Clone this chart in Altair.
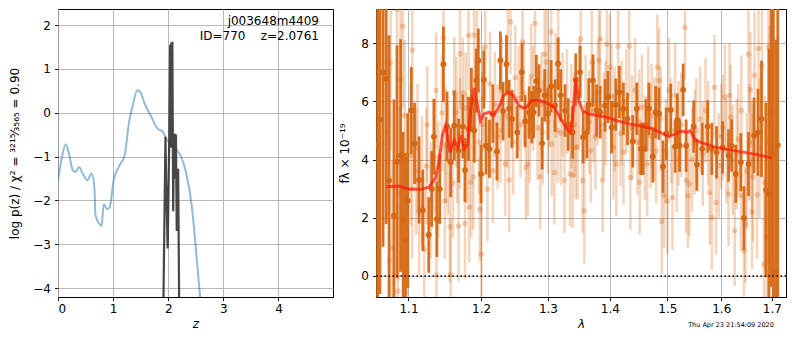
import altair as alt
import pandas as pd

# ---------------- left panel: redshift PDF ----------------
z_prior = [0.0, 0.06, 0.14, 0.20, 0.27, 0.32, 0.38, 0.45, 0.53, 0.61, 0.66, 0.68, 0.75, 0.79,
           0.83, 0.89, 0.94, 1.01, 1.10, 1.21, 1.29, 1.35, 1.44, 1.51, 1.57, 1.68, 1.81, 1.89,
           1.98, 2.13, 2.22, 2.32, 2.43, 2.52, 2.59, 2.65]
logp_prior = [-1.55, -1.09, -0.72, -0.94, -1.32, -1.35, -1.24, -1.39, -1.54, -1.39, -1.70, -2.34,
              -2.53, -2.59, -2.09, -2.20, -2.15, -1.54, -1.24, -0.97, -0.21, 0.13, 0.51, 0.43,
              0.21, -0.06, -0.37, -0.42, -0.63, -0.82, -0.97, -1.35, -2.15, -3.37, -4.37, -5.2]

z_post = [1.91, 1.95, 1.97, 1.99, 2.02, 2.035, 2.045, 2.055, 2.065, 2.075, 2.09, 2.105, 2.12,
          2.13, 2.14, 2.155, 2.18, 2.20]
logp_post = [-4.6, -0.55, -2.0, -3.1, -0.5, 1.55, -0.8, 1.6, 0.5, 1.62, -2.25, -0.6, -0.48,
             -1.5, -0.5, -2.7, -1.28, -4.6]

label_name = "j003648m4409"
label_id = "ID=770\u00a0\u00a0\u00a0\u00a0z=2.0761"

# ---------------- right panel: spectrum ----------------
lam_dark = [1.060, 1.063, 1.067, 1.071, 1.0747, 1.081, 1.085, 1.0897, 1.093, 1.096, 1.099,
            1.1037, 1.108, 1.114, 1.119, 1.127, 1.131, 1.134, 1.138, 1.142, 1.147, 1.152, 1.157,
            1.162, 1.168, 1.174, 1.177, 1.182, 1.186, 1.190, 1.193, 1.196, 1.200, 1.204, 1.207,
            1.212, 1.217, 1.223, 1.228, 1.232, 1.237, 1.241, 1.245, 1.253, 1.260, 1.265, 1.271,
            1.275, 1.278, 1.282, 1.286, 1.291, 1.295, 1.300, 1.305, 1.311, 1.316, 1.320, 1.327,
            1.332, 1.339, 1.344, 1.351, 1.356, 1.362, 1.365, 1.372, 1.378, 1.384, 1.392, 1.397,
            1.403, 1.410, 1.416, 1.423, 1.430, 1.439, 1.446, 1.453, 1.457, 1.462, 1.467, 1.474,
            1.479, 1.485, 1.492, 1.498, 1.506, 1.514, 1.518, 1.522, 1.5286, 1.534, 1.548, 1.554,
            1.564, 1.574, 1.582, 1.591, 1.6026, 1.614, 1.620, 1.628, 1.638, 1.644, 1.653, 1.664,
            1.672, 1.679, 1.688, 1.694, 1.699, 1.703, 1.708, 1.712]
flux_dark = [4.5, 5.38, 7.0, 6.78, 3.28, 2.07, 3.93, 4.14, 1.95, 1.23, 2.59,
             5.69, 4.56, 3.30, 2.26, 1.41, 2.99, 4.79, 1.95, 2.99, 7.28, 5.14, 3.91,
             5.17, 4.31, 5.14, 3.64, 5.06, 6.06, 5.0, 6.72, 7.41, 3.51, 6.75, 4.48,
             4.37, 5.58, 4.28, 7.41, 5.67, 7.28, 5.75, 5.40, 4.94, 7.01, 5.32, 5.62,
             5.46, 5.63, 6.70, 6.38, 4.56, 6.21, 5.58, 6.52, 5.86, 7.30, 6.21, 5.69,
             5.21, 4.94, 6.75, 7.01, 4.77, 4.94, 5.90, 6.72, 5.69, 5.63, 5.86, 6.15,
             5.11, 5.89, 6.32, 5.75, 5.40, 4.63, 5.75, 4.37, 4.37, 5.17, 5.75, 4.11,
             5.63, 5.58, 3.76, 4.89, 5.71, 4.45, 5.37, 4.48, 6.40, 4.48, 5.14, 3.83,
             4.37, 5.14, 4.37, 4.25, 4.42, 4.14, 4.48, 3.51, 3.91, 1.99, 3.85, 4.83,
             4.94, 5.40, 2.96, 2.82, 5.63, 4.2, 0.13, 4.5]
err_dark = [8, 6, 6, 5, 5, 4, 4, 4, 3, 3, 3,
            1.5, 1.4, 1.5, 1.4, 1.3, 1.3, 1.3, 1.3, 1.2, 1.3, 1.2, 1.2,
            1.2, 1.1, 1.1, 1.1, 1.1, 1.1, 1.1, 1.1, 1.1, 1.0, 1.0, 1.0,
            1.0, 1.0, 1.0, 1.0, 1.0, 1.0, 1.0, 1.0, 0.9, 1.0, 0.9, 0.9,
            0.9, 0.9, 0.9, 0.9, 0.9, 0.9, 0.9, 0.9, 0.9, 0.9, 0.9, 0.9,
            0.9, 0.9, 0.9, 0.9, 0.9, 0.9, 0.9, 0.9, 0.9, 0.9, 0.9, 0.9,
            0.9, 0.9, 0.9, 0.9, 0.9, 0.9, 0.9, 0.9, 0.9, 0.9, 0.9, 0.9,
            0.9, 0.9, 0.9, 0.9, 0.9, 0.9, 0.9, 0.9, 0.9, 0.9, 0.9, 0.9,
            0.9, 0.9, 0.9, 0.9, 0.9, 0.9, 0.9, 1.0, 1.0, 1.1, 1.1, 1.3,
            1.5, 2.0, 3.0, 5.0, 6.0, 8.0, 8.0, 9.0]

# light (secondary) spectrum: scattered outliers
lam_light = [1.0725, 1.0767, 1.075, 1.079, 1.085, 1.086, 1.087, 1.0897, 1.0926, 1.095, 1.098,
             1.103, 1.105, 1.11, 1.114, 1.121, 1.124, 1.137, 1.1375, 1.147, 1.149, 1.15, 1.156,
             1.157, 1.162, 1.165, 1.168, 1.170, 1.17, 1.177, 1.178, 1.182, 1.183, 1.186, 1.189,
             1.190, 1.194, 1.198, 1.2004, 1.2015, 1.206, 1.209, 1.217, 1.22, 1.228, 1.235, 1.239,
             1.241, 1.243, 1.250, 1.255, 1.261, 1.266, 1.269, 1.274, 1.280, 1.284, 1.288, 1.292,
             1.295, 1.298, 1.30, 1.305, 1.306, 1.310, 1.312, 1.316, 1.320, 1.326, 1.33, 1.335,
             1.339, 1.344, 1.347, 1.352, 1.355, 1.358, 1.36, 1.3686, 1.370, 1.376, 1.382, 1.384,
             1.388, 1.39, 1.395, 1.400, 1.406, 1.411, 1.414, 1.42, 1.423, 1.433, 1.435, 1.443,
             1.45, 1.451, 1.464, 1.466, 1.47, 1.477, 1.482, 1.485, 1.490, 1.494, 1.500, 1.503,
             1.509, 1.514, 1.52, 1.532, 1.534, 1.537, 1.540, 1.55, 1.56, 1.570, 1.578, 1.582,
             1.587, 1.590, 1.60, 1.607, 1.614, 1.616, 1.618, 1.626, 1.63, 1.638, 1.639, 1.644,
             1.647, 1.653, 1.657, 1.660, 1.66, 1.665, 1.67, 1.673, 1.680, 1.684, 1.690, 1.693,
             1.697, 1.707]
flux_light = [4.94, 7.32, 0.52, 0.95, 9.16, -0.52, 2.84, 6.75, 8.59, 5.52, 1.44,
              4.14, 7.76, 3.6, 2.22, 0.92, 3.77, 6.38, 0.03, 8.19, 2.59, 4.5, 1.69,
              0.06, 6.32, 5.63, 1.72, 7.64, 4.9, 1.80, 5.78, 8.28, 2.36, 3.22, 3.4,
              8.28, 9.25, 2.29, 0.75, 5.21, 7.87, 2.99, 3.62, 5.9, 5.0, 3.85, 9.20,
              3.30, 8.74, 6.82, 6.1, 8.05, 3.73, 3.85, 6.86, 8.68, 5.09, 3.41, 4.94,
              7.62, 7.36, 5.3, 8.39, 4.54, 3.56, 6.55, 9.20, 4.91, 3.28, 6.0, 3.51,
              3.45, 4.43, 4.43, 8.16, 3.28, 2.24, 5.8, 4.31, 7.36, 4.77, 7.41, 8.16,
              3.30, 5.2, 7.97, 7.18, 4.43, 3.85, 7.90, 5.6, 4.25, 7.90, 3.39, 6.38,
              5.3, 3.22, 3.85, 6.09, 4.8, 5.06, 7.18, 6.72, 1.87, 2.76, 2.56, 6.38,
              2.70, 6.21, 4.9, 8.54, 3.28, 2.76, 3.16, 4.6, 5.4, 5.69, 2.87, 2.01,
              6.49, 2.53, 4.8, 6.15, 2.82, 6.21, 5.46, 1.55, 4.2, 2.76, 5.69, 0.86,
              1.78, 7.62, 6.40, 2.22, 4.0, 6.90, 2.79, 7.82, 7.21, 0.40, 1.34, 7.87,
              5.60, 0.11]
err_light = [3, 3, 3, 3, 3, 3, 3, 2.8, 2.8, 2.6, 2.6,
             2.4, 2.4, 2.2, 2.2, 2.0, 2.0, 2.0, 2.0, 2.0, 2.0, 2.0, 1.9,
             1.9, 1.9, 1.9, 1.9, 1.9, 1.9, 1.9, 1.9, 1.9, 1.9, 1.9, 1.8,
             1.8, 1.8, 1.8, 1.8, 1.8, 1.8, 1.8, 1.8, 1.8, 1.8, 1.8, 1.8,
             1.8, 1.8, 1.8, 1.8, 1.8, 1.8, 1.8, 1.8, 1.8, 1.8, 1.8, 1.8,
             1.8, 1.8, 1.8, 1.8, 1.8, 1.8, 1.8, 1.8, 1.8, 1.8, 1.8, 1.8,
             1.8, 1.8, 1.8, 1.8, 1.8, 1.8, 1.8, 1.8, 1.8, 1.8, 1.8, 1.8,
             1.8, 1.8, 1.8, 1.8, 1.8, 1.8, 1.8, 1.8, 1.8, 1.8, 1.8, 1.8,
             1.8, 1.8, 1.8, 1.8, 1.8, 1.8, 1.8, 1.8, 1.8, 1.8, 1.8, 1.8,
             1.8, 1.8, 1.8, 1.8, 1.8, 1.8, 1.8, 1.8, 1.8, 1.8, 1.8, 1.8,
             1.8, 1.8, 1.8, 1.8, 1.8, 1.8, 1.8, 1.9, 1.9, 1.9, 1.9, 2.0,
             2.0, 2.0, 2.0, 2.0, 2.0, 2.2, 2.2, 2.4, 2.6, 3.0, 3.0, 3.5,
             4.0, 5.0]

# light (secondary) spectrum: dense band near the model
lam_band = [1.105, 1.112, 1.118, 1.125, 1.130, 1.135, 1.140, 1.145, 1.153, 1.160, 1.166,
            1.174, 1.180, 1.192, 1.197, 1.203, 1.213, 1.224, 1.230, 1.238, 1.247, 1.258,
            1.263, 1.272, 1.277, 1.290, 1.302, 1.315, 1.323, 1.337, 1.342, 1.350, 1.366,
            1.373, 1.380, 1.393, 1.403, 1.408, 1.418, 1.428, 1.438, 1.447, 1.455, 1.460,
            1.472, 1.480, 1.488, 1.497, 1.507, 1.517, 1.525, 1.545, 1.553, 1.565, 1.575,
            1.595, 1.603, 1.610, 1.622, 1.633, 1.650, 1.655, 1.662, 1.675, 1.686, 1.695]
flux_band = [3.0, 4.4, 3.3, 5.2, 2.6, 4.1, 3.3, 5.6, 4.0, 3.2, 4.4,
             6.3, 4.4, 5.7, 4.6, 6.1, 6.6, 4.8, 6.4, 5.5, 4.6, 5.2,
             6.3, 5.0, 6.1, 5.9, 6.2, 5.0, 5.9, 5.5, 5.2, 6.3, 5.3,
             5.7, 6.3, 5.6, 6.2, 5.4, 4.9, 6.0, 5.1, 4.6, 5.8, 4.4,
             5.5, 4.3, 5.4, 4.3, 5.0, 4.0, 5.2, 4.0, 5.0, 4.2, 4.9,
             3.8, 5.1, 4.3, 4.0, 4.7, 3.6, 4.6, 3.4, 4.4, 3.2, 4.6]
err_band = [2.4, 2.2, 2.2, 2.0, 2.0, 2.0, 2.0, 2.0, 1.9, 1.9, 1.9,
            1.9, 1.9, 1.8, 1.8, 1.8, 1.8, 1.8, 1.8, 1.8, 1.8, 1.8,
            1.8, 1.8, 1.8, 1.8, 1.8, 1.8, 1.8, 1.8, 1.8, 1.8, 1.8,
            1.8, 1.8, 1.8, 1.8, 1.8, 1.8, 1.8, 1.8, 1.8, 1.8, 1.8,
            1.8, 1.8, 1.8, 1.8, 1.8, 1.8, 1.8, 1.8, 1.8, 1.8, 1.8,
            1.8, 1.8, 1.8, 1.9, 1.9, 2.0, 2.0, 2.2, 2.4, 3.0, 4.0]

lam_model = [1.0716, 1.0866, 1.100, 1.1157, 1.127, 1.1365, 1.141, 1.146, 1.150, 1.153, 1.156,
             1.162, 1.167, 1.171, 1.176, 1.181, 1.185, 1.190, 1.196, 1.199, 1.204, 1.211, 1.218,
             1.226, 1.233, 1.240, 1.247, 1.255, 1.262, 1.267, 1.275, 1.287, 1.299, 1.3096,
             1.3203, 1.3283, 1.335, 1.339, 1.344, 1.349, 1.355, 1.365, 1.379, 1.395, 1.411,
             1.434, 1.457, 1.474, 1.492, 1.503, 1.515, 1.524, 1.536, 1.542, 1.551, 1.570,
             1.588, 1.606, 1.626, 1.645, 1.671, 1.700]
flux_model = [3.07, 3.09, 2.99, 2.97, 3.05, 3.39, 3.97, 4.89, 5.17, 4.77, 4.25,
              4.66, 4.43, 4.83, 4.37, 4.54, 5.69, 6.47, 5.69, 5.34, 5.57, 5.63, 5.52,
              5.80, 6.21, 6.32, 6.21, 5.86, 5.78, 5.80, 6.03, 6.03, 5.94, 5.80,
              5.40, 5.11, 4.94, 5.46, 6.78, 6.03, 5.69, 5.57, 5.52, 5.46, 5.34,
              5.23, 5.14, 5.06, 4.89, 4.79, 4.89, 4.98, 4.94, 5.00, 4.66, 4.54,
              4.43, 4.37, 4.31, 4.25, 4.17, 4.06]

timestamp = "Thu Apr 23 21:54:09 2020"

ORANGE = "#d66814"
FONT = "DejaVu Sans"
PLOT_H = 288

# ---------------- build left panel ----------------
df_prior = pd.DataFrame({"z": z_prior, "lp": logp_prior})
df_post = pd.DataFrame({"z": z_post, "lp": logp_post})

xs_l = alt.Scale(domain=[0, 4.99], nice=False, zero=False)
ys_l = alt.Scale(domain=[-4.205, 2.365], nice=False, zero=False)

x_l = alt.X("z:Q", scale=xs_l,
            axis=alt.Axis(values=[0, 1, 2, 3, 4], title="z", titleFontStyle="italic"))
y_l = alt.Y("lp:Q", scale=ys_l,
            axis=alt.Axis(values=[-4, -3, -2, -1, 0, 1, 2],
                          title="log p(z) / χ² = ³²¹⁵⁄₃₅₆₅ = 0.90", titlePadding=11))

prior_line = alt.Chart(df_prior).mark_line(
    color="#1f77b4", opacity=0.5, strokeWidth=2, clip=True,
    interpolate="monotone").encode(x=x_l, y=y_l)
post_line = alt.Chart(df_post).mark_line(
    color="#333333", opacity=0.9, strokeWidth=2.2, clip=True).encode(x=x_l, y=y_l)

txt1 = alt.Chart(pd.DataFrame({"t": [label_name]})).mark_text(
    align="right", baseline="middle", fontSize=12, color="black").encode(
    x=alt.value(261), y=alt.value(12), text="t:N")
txt2 = alt.Chart(pd.DataFrame({"t": [label_id]})).mark_text(
    align="right", baseline="middle", fontSize=12, color="black").encode(
    x=alt.value(261), y=alt.value(27), text="t:N")

left = alt.layer(prior_line, post_line, txt1, txt2).properties(width=275, height=PLOT_H)

# ---------------- build right panel ----------------
df_dark = pd.DataFrame({"lam": lam_dark, "f": flux_dark, "e": err_dark})
df_light = pd.concat([
    pd.DataFrame({"lam": lam_light, "f": flux_light, "e": err_light}),
    pd.DataFrame({"lam": lam_band, "f": flux_band, "e": err_band}),
], ignore_index=True)
for d in (df_dark, df_light):
    d["lo"] = d["f"] - d["e"]
    d["hi"] = d["f"] + d["e"]
df_model = pd.DataFrame({"lam": lam_model, "f": flux_model})

xs_r = alt.Scale(type="log", domain=[1.058, 1.729], nice=False, zero=False)
ys_r = alt.Scale(domain=[-0.724, 9.18], nice=False, zero=False)

x_r = alt.X("lam:Q", scale=xs_r,
            axis=alt.Axis(values=[1.1, 1.2, 1.3, 1.4, 1.5, 1.6, 1.7], format=".1f",
                          title="λ", titleFontStyle="italic"))
y_r = alt.Y("f:Q", scale=ys_r,
            axis=alt.Axis(values=[0, 2, 4, 6, 8], title="fλ × 10⁻¹⁹", titlePadding=9))

light_bars = alt.Chart(df_light).mark_rule(
    color=ORANGE, opacity=0.27, strokeWidth=2.6, clip=True).encode(
    x=x_r, y=alt.Y("lo:Q", scale=ys_r), y2="hi:Q")
light_pts = alt.Chart(df_light).mark_circle(
    color=ORANGE, opacity=0.3, size=30, clip=True).encode(x=x_r, y=y_r)
dark_bars = alt.Chart(df_dark).mark_rule(
    color=ORANGE, opacity=0.95, strokeWidth=2.8, clip=True).encode(
    x=x_r, y=alt.Y("lo:Q", scale=ys_r), y2="hi:Q")
dark_pts = alt.Chart(df_dark).mark_circle(
    color=ORANGE, opacity=1, size=34, clip=True).encode(x=x_r, y=y_r)
model_line = alt.Chart(df_model).mark_line(
    color="#ff1a0a", opacity=0.72, strokeWidth=3, clip=True).encode(x=x_r, y=y_r)
zero_line = alt.Chart(pd.DataFrame({"f": [0.0]})).mark_rule(
    color="black", strokeDash=[1.5, 2.5], strokeWidth=1.5).encode(
    y=alt.Y("f:Q", scale=ys_r))
stamp = alt.Chart(pd.DataFrame({"t": [timestamp]})).mark_text(
    align="center", baseline="middle", fontSize=6.5, color="black").encode(
    x=alt.value(355), y=alt.value(316), text="t:N")

right = alt.layer(light_bars, light_pts, dark_bars, dark_pts, model_line, zero_line,
                  stamp).properties(width=410, height=PLOT_H)

chart = alt.hconcat(left, right, spacing=4).properties(
    padding={"left": 0, "top": 0, "right": 0, "bottom": 0}
).configure(font=FONT).configure_view(
    stroke="black", strokeWidth=1
).configure_axis(
    domain=False, grid=True, gridColor="#b0b0b0", gridWidth=0.9,
    tickColor="black", tickSize=3.5, tickWidth=0.9,
    labelFontSize=12, labelColor="black", labelPadding=4,
    titleFontSize=12, titleFontWeight="normal", titleColor="black",
    labelFont=FONT, titleFont=FONT
).configure_axisX(labelPadding=3, titlePadding=4)

chart.save("out.html", embed_options={"renderer": "svg", "actions": False})
